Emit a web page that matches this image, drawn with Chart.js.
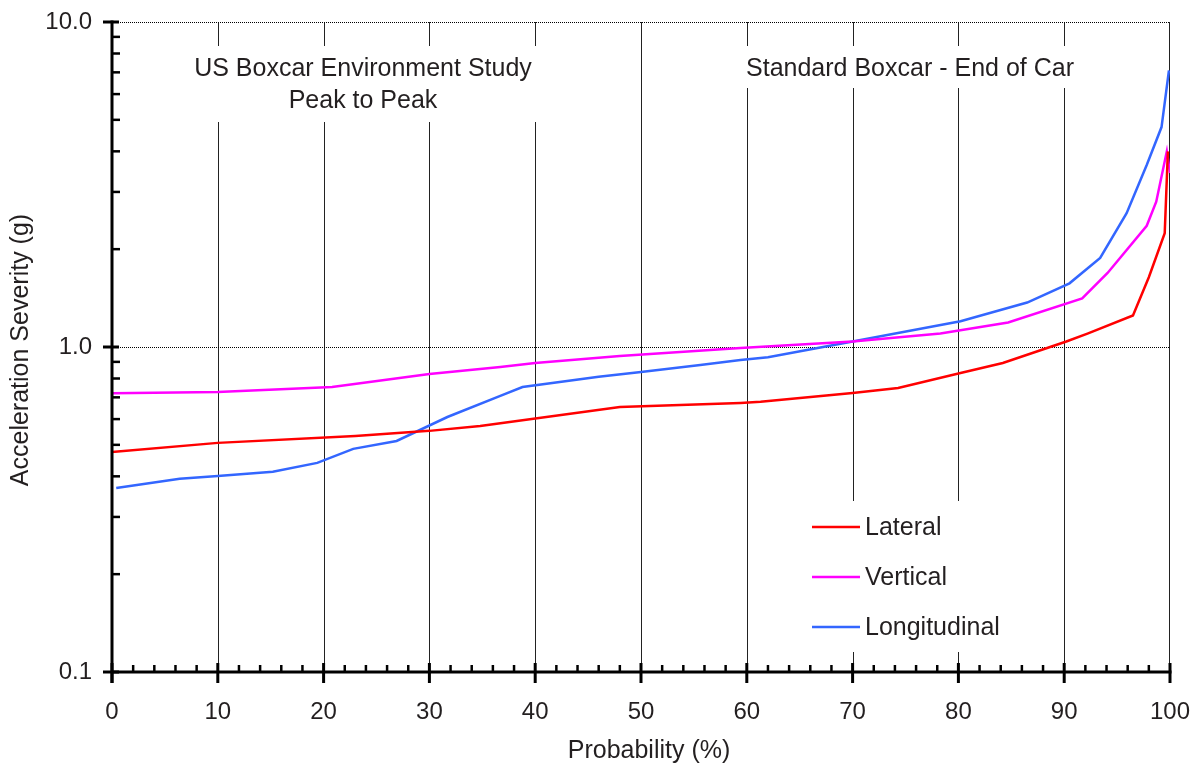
<!DOCTYPE html>
<html>
<head>
<meta charset="utf-8">
<script src="https://cdn.jsdelivr.net/npm/chart.js@4.4.1/dist/chart.umd.min.js"></script>
<style>
html,body{margin:0;padding:0;background:#fff;}
#wrap{width:1203px;height:772px;position:relative;}
</style>
</head>
<body>
<div id="wrap"><canvas id="c"></canvas></div>
<script>
// ---- Data ----
const lateralX = [0, 10, 23, 30, 34.8, 48, 59.4, 61.3, 70, 74.3, 80.2, 84.2, 90.2, 92.2, 96.5, 98, 99.5, 99.8];
const lateralY = [0.475, 0.507, 0.532, 0.552, 0.571, 0.654, 0.673, 0.678, 0.722, 0.748, 0.832, 0.893, 1.04, 1.10, 1.25, 1.64, 2.24, 4.0];

const verticalX = [0, 10, 20.8, 30, 36.7, 40, 48, 59.4, 70, 78.3, 84.7, 91.7, 94.1, 97.8, 98.7, 99.7, 100];
const verticalY = [0.72, 0.727, 0.753, 0.826, 0.868, 0.893, 0.938, 0.993, 1.04, 1.10, 1.19, 1.41, 1.69, 2.36, 2.80, 4.0, 3.43];

const longitudinalX = [0.4, 6.4, 10, 15.2, 19.4, 22.8, 26.9, 31.7, 36.7, 38.8, 46, 50, 55.6, 59.4, 62, 70, 80.2, 86.5, 90.5, 93.4, 95.9, 97.8, 99.2, 99.9];
const longitudinalY = [0.368, 0.393, 0.401, 0.413, 0.440, 0.486, 0.514, 0.609, 0.707, 0.753, 0.81, 0.838, 0.88, 0.912, 0.93, 1.04, 1.20, 1.37, 1.57, 1.88, 2.58, 3.63, 4.75, 7.1];

const seriesNames = ['Lateral', 'Vertical', 'Longitudinal'];
const seriesColors = ['#FF0000', '#FF00FF', '#3366FF'];

const xTickValues = [0, 10, 20, 30, 40, 50, 60, 70, 80, 90, 100];
const yTickValues = [0.1, 1, 10];
const yTickLabels = ['0.1', '1.0', '10.0'];
const xTitle = 'Probability (%)';
const yTitle = 'Acceleration Severity (g)';
const noteLeft = ['US Boxcar Environment Study', 'Peak to Peak'];
const noteRight = ['Standard Boxcar - End of Car'];

function pts(xs, ys){ return xs.map((x,i)=>({x:x, y:ys[i]})); }

const FONT = '"Liberation Sans", Arial, sans-serif';
const TXT = '#231F20';

const decor = {
  id: 'decor',
  beforeDatasetsDraw(chart){
    const ctx = chart.ctx, xs = chart.scales.x, ys = chart.scales.y, a = chart.chartArea;
    ctx.save();
    // vertical grid lines
    ctx.strokeStyle = '#222'; ctx.lineWidth = 1;
    for (let v = 10; v <= 90; v += 10){
      const px = Math.round(xs.getPixelForValue(v)) + 0.5;
      ctx.beginPath(); ctx.moveTo(px, a.top); ctx.lineTo(px, a.bottom); ctx.stroke();
    }
    // right border
    const rx = Math.round(xs.getPixelForValue(100)) - 0.5;
    ctx.beginPath(); ctx.moveTo(rx, a.top); ctx.lineTo(rx, a.bottom); ctx.stroke();
    // horizontal dotted grid
    ctx.setLineDash([1,1]); ctx.strokeStyle = '#000';
    [1, 10].forEach(v=>{
      const py = Math.round(ys.getPixelForValue(v)) + 0.5;
      ctx.beginPath(); ctx.moveTo(a.left, py); ctx.lineTo(a.right, py); ctx.stroke();
    });
    ctx.setLineDash([]);
    // white boxes behind notes and legend
    ctx.fillStyle = '#fff';
    ctx.fillRect(186, 46, 356, 76);
    ctx.fillRect(738, 46, 344, 42);
    ctx.fillRect(800, 501, 212, 151);
    // notes
    ctx.fillStyle = TXT; ctx.font = '25px ' + FONT;
    ctx.textAlign = 'center'; ctx.textBaseline = 'middle';
    ctx.fillText(noteLeft[0], 363, 69);
    ctx.fillText(noteLeft[1], 363, 101);
    ctx.fillText(noteRight[0], 910, 69);
    ctx.restore();
  },
  afterDatasetsDraw(chart){
    const ctx = chart.ctx, xs = chart.scales.x, ys = chart.scales.y, a = chart.chartArea;
    ctx.save();
    ctx.strokeStyle = '#000'; ctx.fillStyle = '#000';
    const x0 = xs.getPixelForValue(0), yb = ys.getPixelForValue(0.1);
    // axis lines
    ctx.lineWidth = 3;
    ctx.beginPath(); ctx.moveTo(x0, a.top - 1.5); ctx.lineTo(x0, yb + 11); ctx.stroke();
    ctx.beginPath(); ctx.moveTo(x0, yb); ctx.lineTo(xs.getPixelForValue(100) + 1.5, yb); ctx.stroke();
    // y major ticks
    yTickValues.forEach(v=>{
      const py = ys.getPixelForValue(v);
      ctx.beginPath(); ctx.moveTo(x0 - 9, py); ctx.lineTo(x0 + 7, py); ctx.stroke();
    });
    // y minor ticks
    ctx.lineWidth = 2.5;
    for (let d = 0.1; d < 10; d *= 10){
      for (let m = 2; m <= 9; m++){
        const py = ys.getPixelForValue(d * m);
        ctx.beginPath(); ctx.moveTo(x0, py); ctx.lineTo(x0 + 8, py); ctx.stroke();
      }
    }
    // x ticks
    for (let v = 0; v <= 100; v += 2){
      const px = xs.getPixelForValue(v);
      ctx.beginPath();
      if (v % 10 === 0){ ctx.lineWidth = 3; ctx.moveTo(px, yb - 9); ctx.lineTo(px, yb + 11); }
      else { ctx.lineWidth = 2.5; ctx.moveTo(px, yb); ctx.lineTo(px, yb - 7); }
      ctx.stroke();
    }
    // tick labels
    ctx.fillStyle = TXT; ctx.font = '24px ' + FONT;
    ctx.textAlign = 'right'; ctx.textBaseline = 'middle';
    yTickValues.forEach((v,i)=> ctx.fillText(yTickLabels[i], 92, ys.getPixelForValue(v)));
    ctx.textAlign = 'center';
    xTickValues.forEach(v=> ctx.fillText(String(v), xs.getPixelForValue(v), 712));
    // axis titles
    ctx.font = '25px ' + FONT;
    ctx.fillText(xTitle, 649, 751);
    ctx.save();
    ctx.translate(21, 350); ctx.rotate(-Math.PI/2);
    ctx.fillText(yTitle, 0, 0);
    ctx.restore();
    // legend
    ctx.font = '25px ' + FONT; ctx.textAlign = 'left';
    chart.data.datasets.forEach((ds, i)=>{
      const ly = 527 + i * 50;
      ctx.strokeStyle = ds.borderColor; ctx.lineWidth = 2.5;
      ctx.beginPath(); ctx.moveTo(812, ly); ctx.lineTo(860, ly); ctx.stroke();
      ctx.fillStyle = TXT; ctx.fillText(ds.label, 865, ly + 1);
    });
    ctx.restore();
  }
};

new Chart(document.getElementById('c'), {
  type: 'line',
  data: {
    datasets: [
      { label: seriesNames[0], data: pts(lateralX, lateralY), borderColor: seriesColors[0] },
      { label: seriesNames[1], data: pts(verticalX, verticalY), borderColor: seriesColors[1] },
      { label: seriesNames[2], data: pts(longitudinalX, longitudinalY), borderColor: seriesColors[2] }
    ].map(d => Object.assign(d, { borderWidth: 2.5, pointRadius: 0, fill: false, tension: 0, backgroundColor: d.borderColor }))
  },
  options: {
    responsive: true, maintainAspectRatio: false, animation: false,
    layout: { padding: { left: 0, top: 22, right: 33, bottom: 0 } },
    plugins: { legend: { display: false }, tooltip: { enabled: false } },
    scales: {
      x: { type: 'linear', min: 0, max: 100, grid: { display: false }, border: { display: false },
           ticks: { display: false }, afterFit: s => { s.height = 100; } },
      y: { type: 'logarithmic', min: 0.1, max: 10, grid: { display: false }, border: { display: false },
           ticks: { display: false }, afterFit: s => { s.width = 112; } }
    }
  },
  plugins: [decor]
});
</script>
</body>
</html>
